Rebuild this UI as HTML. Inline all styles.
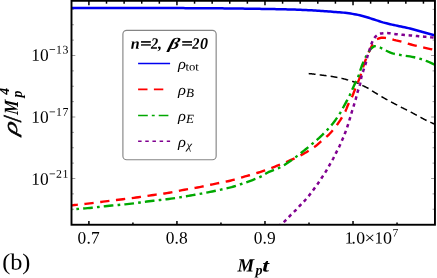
<!DOCTYPE html>
<html><head><meta charset="utf-8"><title>plot</title>
<style>
html,body{margin:0;padding:0;background:#fff;}
body{width:437px;height:278px;position:relative;overflow:hidden;font-family:"Liberation Serif",serif;color:#000;}
</style></head><body><div id="w" style="position:absolute;left:0;top:0;width:437px;height:278px;will-change:transform;background:#fff">
<svg width="437" height="278" viewBox="0 0 437 278" style="position:absolute;left:0;top:0"><defs><clipPath id="c"><rect x="71.5" y="0.8" width="363.45" height="223.95"/></clipPath></defs><g clip-path="url(#c)" fill="none" stroke-linejoin="round"><path d="M308.70,73.60 L309.40,73.66 L310.10,73.72 L310.80,73.78 L311.50,73.85 L312.20,73.92 L312.90,74.00 L313.60,74.07 L314.30,74.15 L315.00,74.23 L315.69,74.31 L316.39,74.40 L317.09,74.49 L317.79,74.59 L318.48,74.69 L319.18,74.79 L319.87,74.88 L320.57,74.98 L321.27,75.07 L321.97,75.16 L322.66,75.25 L323.36,75.34 L324.06,75.43 L324.75,75.52 L325.45,75.61 L326.15,75.70 L326.85,75.79 L327.54,75.88 L328.24,75.97 L328.94,76.06 L329.64,76.15 L330.33,76.25 L331.03,76.35 L331.72,76.46 L332.42,76.57 L333.11,76.68 L333.80,76.80 L334.50,76.92 L335.19,77.05 L335.88,77.17 L336.57,77.30 L337.26,77.44 L337.95,77.57 L338.64,77.71 L339.33,77.85 L340.02,77.99 L340.71,78.14 L341.39,78.30 L342.08,78.46 L342.76,78.62 L343.44,78.79 L344.12,78.96 L344.81,79.14 L345.49,79.32 L346.17,79.50 L346.84,79.69 L347.52,79.88 L348.20,80.07 L348.87,80.27 L349.54,80.47 L350.21,80.69 L350.88,80.90 L351.55,81.12 L352.22,81.34 L352.89,81.55 L353.56,81.77 L354.23,81.98 L354.90,82.20 L355.57,82.42 L356.24,82.64 L356.90,82.88 L357.56,83.12 L358.21,83.38 L358.85,83.67 L359.48,83.96 L360.11,84.28 L360.74,84.60 L361.37,84.92 L361.99,85.24 L362.62,85.56 L363.25,85.87 L363.89,86.17 L364.53,86.48 L365.16,86.78 L365.80,87.09 L366.43,87.39 L367.06,87.71 L367.68,88.03 L368.30,88.37 L368.91,88.71 L369.50,89.08 L370.09,89.47 L370.67,89.86 L371.26,90.26 L371.84,90.65 L372.43,91.03 L373.03,91.40 L373.62,91.78 L374.22,92.15 L374.82,92.52 L375.42,92.89 L376.02,93.25 L376.62,93.62 L377.22,93.99 L377.82,94.35 L378.42,94.72 L379.02,95.09 L379.62,95.46 L380.22,95.82 L380.82,96.19 L381.42,96.55 L382.03,96.91 L382.63,97.26 L383.24,97.61 L383.86,97.95 L384.47,98.29 L385.09,98.63 L385.70,98.97 L386.32,99.31 L386.94,99.65 L387.55,99.98 L388.17,100.32 L388.79,100.66 L389.40,101.00 L390.02,101.34 L390.63,101.68 L391.25,102.02 L391.87,102.35 L392.49,102.68 L393.11,103.01 L393.74,103.33 L394.36,103.66 L394.99,103.98 L395.61,104.30 L396.23,104.62 L396.86,104.95 L397.48,105.27 L398.11,105.60 L398.73,105.92 L399.35,106.25 L399.97,106.58 L400.59,106.91 L401.21,107.24 L401.84,107.56 L402.46,107.88 L403.09,108.20 L403.72,108.51 L404.35,108.82 L404.99,109.13 L405.62,109.43 L406.25,109.74 L406.89,110.05 L407.52,110.36 L408.15,110.67 L408.78,110.98 L409.40,111.31 L410.02,111.63 L410.65,111.96 L411.27,112.29 L411.89,112.62 L412.50,112.96 L413.12,113.29 L413.74,113.63 L414.36,113.97 L414.97,114.30 L415.59,114.64 L416.21,114.97 L416.83,115.31 L417.45,115.64 L418.07,115.97 L418.69,116.30 L419.31,116.64 L419.92,116.98 L420.54,117.31 L421.16,117.65 L421.78,117.99 L422.40,118.32 L423.02,118.65 L423.64,118.98 L424.26,119.31 L424.88,119.64 L425.51,119.96 L426.13,120.27 L426.76,120.59 L427.39,120.90 L428.03,121.20 L428.67,121.49 L429.30,121.79 L429.95,122.07 L430.59,122.36 L431.23,122.64 L431.88,122.93 L432.52,123.21 L433.16,123.49 L433.81,123.78 L434.45,124.07 L435.09,124.36 L435.72,124.66 L436.36,124.95 L437.00,125.25" stroke="#000" stroke-width="1.5" stroke-dasharray="6.9 4.15"/><path d="M70.00,7.90 L71.86,7.90 L73.72,7.91 L75.58,7.91 L77.44,7.92 L79.30,7.92 L81.16,7.93 L83.02,7.93 L84.88,7.93 L86.74,7.94 L88.60,7.94 L90.46,7.95 L92.32,7.95 L94.18,7.95 L96.04,7.96 L97.90,7.96 L99.76,7.96 L101.62,7.97 L103.48,7.97 L105.34,7.97 L107.20,7.98 L109.06,7.98 L110.92,7.98 L112.78,7.99 L114.64,7.99 L116.50,7.99 L118.35,8.00 L120.21,8.00 L122.07,8.00 L123.93,8.00 L125.79,8.01 L127.65,8.01 L129.51,8.01 L131.37,8.01 L133.23,8.02 L135.09,8.02 L136.95,8.02 L138.81,8.02 L140.67,8.02 L142.53,8.03 L144.39,8.03 L146.25,8.03 L148.11,8.03 L149.97,8.03 L151.83,8.04 L153.69,8.04 L155.55,8.04 L157.41,8.05 L159.27,8.05 L161.13,8.05 L162.99,8.06 L164.85,8.06 L166.71,8.07 L168.57,8.07 L170.43,8.08 L172.29,8.08 L174.15,8.09 L176.01,8.09 L177.87,8.10 L179.73,8.11 L181.59,8.11 L183.45,8.12 L185.31,8.13 L187.17,8.14 L189.03,8.15 L190.89,8.15 L192.75,8.16 L194.61,8.17 L196.47,8.18 L198.33,8.19 L200.19,8.20 L202.05,8.21 L203.91,8.22 L205.77,8.23 L207.62,8.25 L209.48,8.26 L211.34,8.28 L213.20,8.29 L215.06,8.31 L216.92,8.32 L218.78,8.34 L220.64,8.36 L222.50,8.37 L224.36,8.39 L226.22,8.41 L228.08,8.43 L229.94,8.45 L231.80,8.47 L233.66,8.49 L235.52,8.52 L237.38,8.54 L239.24,8.57 L241.10,8.59 L242.96,8.62 L244.82,8.65 L246.68,8.68 L248.54,8.70 L250.40,8.73 L252.26,8.76 L254.12,8.79 L255.98,8.81 L257.84,8.84 L259.70,8.87 L261.56,8.89 L263.42,8.92 L265.27,8.94 L267.13,8.97 L268.99,9.00 L270.85,9.03 L272.71,9.06 L274.57,9.09 L276.43,9.13 L278.29,9.17 L280.15,9.21 L282.01,9.25 L283.87,9.30 L285.73,9.34 L287.59,9.39 L289.45,9.45 L291.31,9.50 L293.17,9.56 L295.02,9.62 L296.88,9.68 L298.74,9.75 L300.60,9.82 L302.46,9.89 L304.32,9.97 L306.17,10.06 L308.03,10.16 L309.89,10.26 L311.75,10.36 L313.60,10.47 L315.46,10.58 L317.31,10.70 L319.17,10.81 L321.03,10.93 L322.88,11.06 L324.74,11.20 L326.59,11.34 L328.45,11.48 L330.30,11.62 L332.16,11.75 L334.01,11.88 L335.87,12.01 L337.73,12.14 L339.58,12.28 L341.43,12.44 L343.28,12.62 L345.13,12.83 L346.97,13.06 L348.82,13.31 L350.66,13.59 L352.50,13.88 L354.33,14.20 L356.16,14.53 L357.98,14.90 L359.79,15.31 L361.60,15.75 L363.41,16.22 L365.20,16.70 L366.99,17.21 L368.76,17.77 L370.53,18.36 L372.29,18.94 L374.06,19.52 L375.83,20.09 L377.60,20.68 L379.37,21.26 L381.14,21.83 L382.92,22.37 L384.71,22.86 L386.51,23.33 L388.31,23.76 L390.12,24.19 L391.94,24.60 L393.76,25.00 L395.57,25.40 L397.39,25.81 L399.21,26.19 L401.03,26.56 L402.86,26.93 L404.68,27.31 L406.50,27.70 L408.31,28.11 L410.11,28.55 L411.91,29.02 L413.71,29.52 L415.50,30.02 L417.28,30.53 L419.07,31.04 L420.87,31.54 L422.66,32.03 L424.45,32.53 L426.25,33.02 L428.04,33.52 L429.83,34.01 L431.62,34.51 L433.42,35.00 L435.21,35.50 L437.00,36.00" stroke="#0000f0" stroke-width="2.5"/><path d="M70.00,205.60 L72.20,205.32 L74.41,205.06 L76.61,204.82 L78.82,204.57 L81.03,204.33 L83.24,204.09 L85.44,203.85 L87.65,203.60 L89.86,203.35 L92.06,203.08 L94.26,202.80 L96.47,202.52 L98.67,202.24 L100.87,201.96 L103.07,201.68 L105.28,201.40 L107.48,201.13 L109.68,200.85 L111.89,200.58 L114.09,200.30 L116.29,200.03 L118.50,199.75 L120.70,199.48 L122.90,199.20 L125.11,198.93 L127.31,198.65 L129.51,198.38 L131.72,198.10 L133.92,197.82 L136.12,197.52 L138.32,197.22 L140.52,196.90 L142.71,196.58 L144.91,196.25 L147.11,195.92 L149.30,195.59 L151.50,195.27 L153.70,194.96 L155.90,194.66 L158.10,194.37 L160.30,194.07 L162.50,193.77 L164.70,193.46 L166.89,193.12 L169.08,192.77 L171.27,192.38 L173.45,191.96 L175.62,191.52 L177.80,191.07 L179.98,190.63 L182.16,190.19 L184.34,189.78 L186.52,189.39 L188.71,189.01 L190.90,188.63 L193.09,188.26 L195.28,187.88 L197.46,187.48 L199.64,187.07 L201.82,186.64 L203.99,186.19 L206.16,185.72 L208.33,185.25 L210.50,184.78 L212.67,184.31 L214.85,183.85 L217.02,183.41 L219.20,182.97 L221.39,182.55 L223.56,182.12 L225.74,181.67 L227.91,181.21 L230.07,180.71 L232.22,180.17 L234.36,179.59 L236.50,178.98 L238.63,178.35 L240.76,177.72 L242.89,177.08 L245.02,176.45 L247.15,175.84 L249.29,175.24 L251.43,174.63 L253.57,174.03 L255.70,173.41 L257.83,172.77 L259.94,172.11 L262.05,171.42 L264.15,170.70 L266.24,169.95 L268.33,169.18 L270.41,168.40 L272.48,167.60 L274.55,166.79 L276.61,165.98 L278.68,165.16 L280.74,164.32 L282.79,163.48 L284.84,162.62 L286.89,161.75 L288.92,160.87 L290.95,159.96 L292.97,159.05 L294.98,158.11 L296.99,157.15 L298.99,156.18 L300.97,155.17 L302.93,154.13 L304.87,153.06 L306.79,151.95 L308.70,150.80 L310.58,149.62 L312.44,148.39 L314.26,147.12 L316.03,145.79 L317.72,144.35 L319.39,142.89 L321.09,141.45 L322.80,140.01 L324.50,138.56 L326.18,137.10 L327.81,135.60 L329.38,134.05 L330.89,132.45 L332.35,130.79 L333.78,129.08 L335.16,127.33 L336.51,125.55 L337.82,123.74 L339.08,121.92 L340.31,120.08 L341.50,118.20 L342.66,116.30 L343.76,114.36 L344.81,112.40 L345.77,110.41 L346.63,108.36 L347.44,106.29 L348.32,104.25 L349.31,102.26 L350.35,100.30 L351.37,98.33 L352.30,96.31 L353.13,94.26 L353.92,92.18 L354.74,90.11 L355.58,88.06 L356.43,86.01 L357.28,83.95 L358.10,81.89 L358.92,79.83 L359.71,77.75 L360.45,75.66 L361.12,73.55 L361.76,71.42 L362.39,69.29 L363.05,67.17 L363.75,65.06 L364.49,62.97 L365.25,60.88 L366.03,58.80 L366.85,56.74 L367.70,54.68 L368.59,52.65 L369.52,50.63 L370.47,48.61 L371.48,46.62 L372.59,44.72 L373.80,42.76 L375.16,40.83 L376.69,39.38 L378.58,38.48 L380.81,37.82 L383.03,37.72 L385.26,37.88 L387.45,38.12 L389.62,38.57 L391.76,39.16 L393.90,39.80 L396.06,40.39 L398.23,40.87 L400.38,41.40 L402.51,42.01 L404.64,42.65 L406.76,43.31 L408.89,43.94 L411.03,44.53 L413.18,45.08 L415.34,45.61 L417.50,46.12 L419.67,46.62 L421.83,47.12 L423.99,47.61 L426.16,48.09 L428.33,48.57 L430.50,49.05 L432.66,49.54 L434.83,50.02 L437.00,50.50" stroke="#ff0000" stroke-width="2.4" stroke-dasharray="9.3 6.6" stroke-dashoffset="1.4"/><path d="M70.00,209.60 L72.20,209.42 L74.40,209.24 L76.60,209.06 L78.80,208.89 L81.00,208.71 L83.20,208.53 L85.40,208.34 L87.60,208.15 L89.80,207.94 L91.99,207.71 L94.19,207.47 L96.38,207.23 L98.57,206.98 L100.77,206.72 L102.96,206.47 L105.16,206.23 L107.35,206.00 L109.55,205.78 L111.74,205.56 L113.94,205.35 L116.14,205.15 L118.34,204.94 L120.54,204.73 L122.73,204.53 L124.93,204.33 L127.13,204.12 L129.33,203.90 L131.52,203.65 L133.71,203.37 L135.90,203.08 L138.08,202.78 L140.27,202.47 L142.45,202.16 L144.64,201.85 L146.83,201.55 L149.02,201.26 L151.21,200.99 L153.40,200.73 L155.59,200.48 L157.79,200.23 L159.98,199.99 L162.18,199.74 L164.37,199.49 L166.56,199.23 L168.75,198.96 L170.94,198.67 L173.12,198.36 L175.31,198.03 L177.49,197.69 L179.67,197.35 L181.85,197.00 L184.03,196.64 L186.21,196.28 L188.38,195.91 L190.56,195.53 L192.73,195.15 L194.91,194.77 L197.08,194.39 L199.25,194.00 L201.43,193.60 L203.60,193.20 L205.77,192.79 L207.93,192.37 L210.10,191.94 L212.26,191.50 L214.42,191.03 L216.57,190.55 L218.72,190.06 L220.88,189.57 L223.03,189.09 L225.19,188.63 L227.35,188.17 L229.51,187.68 L231.64,187.14 L233.76,186.52 L235.86,185.86 L237.96,185.16 L240.05,184.45 L242.15,183.74 L244.23,183.02 L246.32,182.29 L248.39,181.55 L250.47,180.79 L252.54,180.01 L254.61,179.24 L256.68,178.45 L258.72,177.61 L260.71,176.70 L262.63,175.62 L264.51,174.44 L266.39,173.26 L268.32,172.19 L270.32,171.29 L272.39,170.51 L274.48,169.76 L276.55,168.99 L278.57,168.12 L280.54,167.14 L282.48,166.07 L284.39,164.95 L286.27,163.79 L288.12,162.60 L289.95,161.36 L291.74,160.07 L293.52,158.76 L295.29,157.43 L297.05,156.11 L298.80,154.76 L300.54,153.40 L302.27,152.03 L304.00,150.65 L305.71,149.26 L307.42,147.86 L309.12,146.46 L310.82,145.04 L312.50,143.61 L314.19,142.19 L315.87,140.76 L317.54,139.31 L319.19,137.85 L320.81,136.35 L322.40,134.82 L323.98,133.27 L325.53,131.70 L327.05,130.10 L328.54,128.47 L330.00,126.82 L331.44,125.14 L332.84,123.43 L334.20,121.69 L335.52,119.93 L336.80,118.12 L338.04,116.29 L339.24,114.44 L340.40,112.56 L341.50,110.65 L342.56,108.71 L343.60,106.76 L344.66,104.83 L345.72,102.89 L346.78,100.95 L347.82,99.00 L348.83,97.04 L349.81,95.06 L350.74,93.07 L351.64,91.05 L352.53,89.03 L353.41,87.00 L354.30,84.98 L355.21,82.97 L356.17,80.98 L357.15,78.99 L358.06,76.99 L358.85,74.94 L359.56,72.85 L360.22,70.73 L360.88,68.62 L361.57,66.52 L362.35,64.47 L363.20,62.43 L364.11,60.41 L365.06,58.42 L366.03,56.44 L367.02,54.45 L368.08,52.51 L369.32,50.69 L370.75,48.96 L372.37,47.50 L374.28,46.18 L376.32,46.15 L378.46,46.88 L380.55,47.74 L382.53,48.69 L384.47,49.76 L386.44,50.77 L388.44,51.73 L390.46,52.66 L392.52,53.42 L394.63,53.95 L396.80,54.39 L398.99,54.77 L401.17,55.13 L403.35,55.48 L405.54,55.79 L407.73,56.09 L409.91,56.43 L412.08,56.82 L414.24,57.28 L416.40,57.78 L418.53,58.33 L420.65,58.94 L422.74,59.63 L424.82,60.38 L426.89,61.18 L428.93,62.00 L430.95,62.89 L432.97,63.81 L434.98,64.70 L437.00,65.60" stroke="#00a800" stroke-width="2.4" stroke-dasharray="9.7 4.2 2.7 4.1" stroke-dashoffset="7.5"/><path d="M276.00,228.50 L277.08,227.57 L278.16,226.65 L279.24,225.73 L280.33,224.81 L281.43,223.90 L282.54,223.00 L283.64,222.10 L284.72,221.18 L285.77,220.23 L286.78,219.23 L287.75,218.19 L288.71,217.14 L289.67,216.08 L290.65,215.05 L291.66,214.05 L292.70,213.07 L293.74,212.10 L294.77,211.12 L295.78,210.12 L296.77,209.10 L297.74,208.06 L298.70,207.01 L299.65,205.95 L300.62,204.90 L301.59,203.87 L302.58,202.84 L303.56,201.81 L304.54,200.78 L305.50,199.73 L306.43,198.66 L307.36,197.58 L308.27,196.48 L309.16,195.38 L310.05,194.26 L310.92,193.14 L311.78,192.01 L312.63,190.87 L313.48,189.72 L314.32,188.57 L315.16,187.42 L316.00,186.27 L316.83,185.12 L317.66,183.96 L318.47,182.79 L319.26,181.62 L320.05,180.43 L320.82,179.23 L321.59,178.04 L322.36,176.84 L323.13,175.64 L323.91,174.45 L324.69,173.26 L325.46,172.07 L326.22,170.86 L326.95,169.64 L327.67,168.41 L328.37,167.18 L329.06,165.93 L329.76,164.69 L330.45,163.45 L331.16,162.22 L331.87,160.98 L332.56,159.74 L333.25,158.49 L333.90,157.23 L334.54,155.96 L335.17,154.68 L335.80,153.41 L336.43,152.13 L337.08,150.86 L337.74,149.60 L338.39,148.34 L339.04,147.07 L339.66,145.79 L340.25,144.50 L340.83,143.20 L341.39,141.89 L341.95,140.58 L342.51,139.27 L343.07,137.96 L343.62,136.65 L344.16,135.34 L344.69,134.02 L345.20,132.69 L345.70,131.36 L346.19,130.02 L346.66,128.68 L347.13,127.33 L347.58,125.99 L348.03,124.63 L348.47,123.28 L348.89,121.92 L349.30,120.56 L349.69,119.19 L350.09,117.83 L350.48,116.46 L350.88,115.09 L351.27,113.73 L351.68,112.36 L352.10,111.00 L352.52,109.64 L352.94,108.28 L353.37,106.93 L353.79,105.57 L354.21,104.21 L354.63,102.85 L355.04,101.49 L355.45,100.12 L355.84,98.76 L356.21,97.38 L356.56,96.00 L356.91,94.62 L357.26,93.24 L357.64,91.87 L358.05,90.51 L358.50,89.16 L358.96,87.81 L359.40,86.45 L359.82,85.09 L360.17,83.72 L360.46,82.33 L360.70,80.93 L360.92,79.52 L361.17,78.11 L361.46,76.73 L361.83,75.36 L362.25,74.00 L362.70,72.64 L363.14,71.29 L363.58,69.93 L364.04,68.59 L364.51,67.24 L364.97,65.89 L365.41,64.54 L365.81,63.18 L366.16,61.80 L366.47,60.41 L366.77,59.02 L367.10,57.63 L367.47,56.26 L367.92,54.92 L368.42,53.58 L368.89,52.24 L369.30,50.87 L369.67,49.49 L370.03,48.11 L370.42,46.74 L370.88,45.41 L371.38,44.05 L371.93,42.67 L372.52,41.32 L373.17,40.00 L373.88,38.77 L374.65,37.65 L375.51,36.65 L376.56,35.63 L377.76,34.68 L379.04,33.95 L380.34,33.58 L381.68,33.40 L383.11,33.25 L384.57,33.15 L386.02,33.10 L387.44,33.12 L388.85,33.21 L390.27,33.36 L391.68,33.55 L393.09,33.76 L394.51,33.96 L395.92,34.14 L397.34,34.28 L398.75,34.42 L400.17,34.55 L401.59,34.68 L403.00,34.80 L404.42,34.93 L405.84,35.05 L407.26,35.18 L408.67,35.30 L410.09,35.43 L411.51,35.56 L412.93,35.68 L414.34,35.81 L415.76,35.94 L417.18,36.06 L418.59,36.19 L420.01,36.32 L421.43,36.44 L422.85,36.57 L424.26,36.70 L425.68,36.83 L427.10,36.97 L428.51,37.10 L429.93,37.24 L431.34,37.38 L432.76,37.53 L434.17,37.68 L435.59,37.84 L437.00,38.00" stroke="#800090" stroke-width="2.5" stroke-dasharray="3.5 3.7" stroke-dashoffset="4.4"/></g><g stroke="#000" stroke-width="1.5"><line x1="88.90" y1="0.8" x2="88.90" y2="5.3"/><line x1="106.51" y1="0.8" x2="106.51" y2="3.7"/><line x1="124.12" y1="0.8" x2="124.12" y2="3.7"/><line x1="141.72" y1="0.8" x2="141.72" y2="3.7"/><line x1="159.33" y1="0.8" x2="159.33" y2="3.7"/><line x1="176.94" y1="0.8" x2="176.94" y2="5.3"/><line x1="194.55" y1="0.8" x2="194.55" y2="3.7"/><line x1="212.16" y1="0.8" x2="212.16" y2="3.7"/><line x1="229.76" y1="0.8" x2="229.76" y2="3.7"/><line x1="247.37" y1="0.8" x2="247.37" y2="3.7"/><line x1="264.98" y1="0.8" x2="264.98" y2="5.3"/><line x1="282.59" y1="0.8" x2="282.59" y2="3.7"/><line x1="300.20" y1="0.8" x2="300.20" y2="3.7"/><line x1="317.80" y1="0.8" x2="317.80" y2="3.7"/><line x1="335.41" y1="0.8" x2="335.41" y2="3.7"/><line x1="353.02" y1="0.8" x2="353.02" y2="5.3"/><line x1="370.63" y1="0.8" x2="370.63" y2="3.7"/><line x1="388.24" y1="0.8" x2="388.24" y2="3.7"/><line x1="405.84" y1="0.8" x2="405.84" y2="3.7"/><line x1="423.45" y1="0.8" x2="423.45" y2="3.7"/><line x1="88.90" y1="224.75" x2="88.90" y2="221.05"/><line x1="132.92" y1="224.75" x2="132.92" y2="222.45"/><line x1="176.94" y1="224.75" x2="176.94" y2="221.05"/><line x1="220.96" y1="224.75" x2="220.96" y2="222.45"/><line x1="264.98" y1="224.75" x2="264.98" y2="221.05"/><line x1="309.00" y1="224.75" x2="309.00" y2="222.45"/><line x1="353.02" y1="224.75" x2="353.02" y2="221.05"/><line x1="397.04" y1="224.75" x2="397.04" y2="222.45"/></g><g stroke="#555" stroke-width="0.6"><line x1="71.5" y1="209.25" x2="73.9" y2="209.25"/><line x1="434.95" y1="209.25" x2="432.55" y2="209.25"/><line x1="71.5" y1="193.88" x2="73.9" y2="193.88"/><line x1="434.95" y1="193.88" x2="432.55" y2="193.88"/><line x1="71.5" y1="178.50" x2="75.3" y2="178.50"/><line x1="434.95" y1="178.50" x2="431.15" y2="178.50"/><line x1="71.5" y1="163.12" x2="73.9" y2="163.12"/><line x1="434.95" y1="163.12" x2="432.55" y2="163.12"/><line x1="71.5" y1="147.75" x2="73.9" y2="147.75"/><line x1="434.95" y1="147.75" x2="432.55" y2="147.75"/><line x1="71.5" y1="132.38" x2="73.9" y2="132.38"/><line x1="434.95" y1="132.38" x2="432.55" y2="132.38"/><line x1="71.5" y1="117.00" x2="75.3" y2="117.00"/><line x1="434.95" y1="117.00" x2="431.15" y2="117.00"/><line x1="71.5" y1="101.62" x2="73.9" y2="101.62"/><line x1="434.95" y1="101.62" x2="432.55" y2="101.62"/><line x1="71.5" y1="86.25" x2="73.9" y2="86.25"/><line x1="434.95" y1="86.25" x2="432.55" y2="86.25"/><line x1="71.5" y1="70.88" x2="73.9" y2="70.88"/><line x1="434.95" y1="70.88" x2="432.55" y2="70.88"/><line x1="71.5" y1="55.50" x2="75.3" y2="55.50"/><line x1="434.95" y1="55.50" x2="431.15" y2="55.50"/><line x1="71.5" y1="40.12" x2="73.9" y2="40.12"/><line x1="434.95" y1="40.12" x2="432.55" y2="40.12"/><line x1="71.5" y1="24.75" x2="73.9" y2="24.75"/><line x1="434.95" y1="24.75" x2="432.55" y2="24.75"/><line x1="71.5" y1="9.38" x2="73.9" y2="9.38"/><line x1="434.95" y1="9.38" x2="432.55" y2="9.38"/></g><rect x="71.5" y="0.8" width="363.45" height="223.95" fill="none" stroke="#000" stroke-width="1.9"/><rect x="122.9" y="30.3" width="93.25" height="129.45" rx="3.8" fill="#fff" stroke="#858585" stroke-width="1.15"/><g fill="none" stroke-width="1.55"><path d="M138.1,63.4H170.1" stroke="#0000f0"/><path d="M138.1,89.35H169.5" stroke="#ff0000" stroke-dasharray="9.4 6.4"/><path d="M138.1,115.4H170.1" stroke="#00a800" stroke-dasharray="9.7 4.0 2.9 4.0"/><path d="M138.1,141.15H170.1" stroke="#800090" stroke-dasharray="3.5 3.67"/></g><text transform="translate(17.15,135.40) rotate(-90) scale(1.36,1) skewX(-12)" font-family="Liberation Serif" font-weight="normal" stroke="#000" stroke-width="0.45" font-style="italic" font-size="19.5">&#961;</text><text stroke="#000" stroke-width="0.6" transform="translate(20.50,121.25) rotate(-90) scale(0.85,1.2) " font-family="Liberation Serif" font-weight="bold" font-style="italic" font-size="20.2">/</text><text transform="translate(17.70,115.00) rotate(-90) scale(0.8,1) skewX(-6)" font-family="Liberation Serif" font-weight="bold" font-style="italic" font-size="20.2">M</text><text transform="translate(22.30,97.50) rotate(-90) scale(1,1) " font-family="Liberation Serif" font-weight="bold" font-style="italic" font-size="13.6">p</text><text transform="translate(9.40,94.80) rotate(-90) scale(1,1) " font-family="Liberation Serif" font-weight="bold" font-style="italic" font-size="14">4</text><text transform="translate(130.80,48.70) rotate(0.03) scale(1,1) " font-family="Liberation Serif" font-weight="bold" font-style="italic" font-size="16">n</text><text stroke="#000" stroke-width="0.45" transform="translate(140.20,48.70) rotate(0.03) scale(1.22,1) " font-family="Liberation Serif" font-weight="bold" font-style="italic" font-size="16">=</text><text transform="translate(151.10,48.70) rotate(0.03) scale(0.9,1) " font-family="Liberation Serif" font-weight="bold" font-style="italic" font-size="16">2</text><text transform="translate(158.10,48.70) rotate(0.03) scale(1,1) " font-family="Liberation Serif" font-weight="bold" font-style="italic" font-size="16">,</text><text transform="translate(167.80,48.70) rotate(0.03) scale(1.33,1) skewX(-10)" font-family="Liberation Serif" font-weight="bold" font-style="italic" font-size="15.8">&#946;</text><text stroke="#000" stroke-width="0.45" transform="translate(181.50,48.70) rotate(0.03) scale(1.22,1) " font-family="Liberation Serif" font-weight="bold" font-style="italic" font-size="16">=</text><text transform="translate(192.30,48.70) rotate(0.03) scale(0.9,1) " font-family="Liberation Serif" font-weight="bold" font-style="italic" font-size="16">2</text><text transform="translate(200.10,48.70) rotate(0.03) scale(1,1) " font-family="Liberation Serif" font-weight="bold" font-style="italic" font-size="16">0</text><text transform="translate(177.90,68.65) rotate(0.03) scale(1.1,1) " font-family="Liberation Serif" font-weight="normal" font-style="italic" font-size="15">&#961;</text><text transform="translate(185.50,70.40) rotate(0.03) scale(1.1,1) " font-family="Liberation Serif" font-weight="normal" font-style="normal" font-size="11.5">tot</text><text transform="translate(177.90,94.65) rotate(0.03) scale(1.1,1) " font-family="Liberation Serif" font-weight="normal" font-style="italic" font-size="15">&#961;</text><text transform="translate(185.90,96.95) rotate(0.03) scale(1.05,1) " font-family="Liberation Serif" font-weight="normal" font-style="italic" font-size="12.5">B</text><text transform="translate(177.90,120.65) rotate(0.03) scale(1.1,1) " font-family="Liberation Serif" font-weight="normal" font-style="italic" font-size="15">&#961;</text><text transform="translate(185.90,122.95) rotate(0.03) scale(1.05,1) " font-family="Liberation Serif" font-weight="normal" font-style="italic" font-size="12.5">E</text><text transform="translate(177.90,146.65) rotate(0.03) scale(1.1,1) " font-family="Liberation Serif" font-weight="normal" font-style="italic" font-size="15">&#961;</text><text transform="translate(186.40,149.10) rotate(0.03) scale(1.1,1) " font-family="Liberation Serif" font-weight="normal" font-style="italic" font-size="11.4">&#967;</text><text transform="translate(31.20,60.70) rotate(0.03) scale(1,1)" font-family="Liberation Serif" font-size="17.4" text-anchor="start">10</text><text transform="translate(49.00,53.60) rotate(0.03) scale(1,1)" font-family="Liberation Serif" font-size="11.8" text-anchor="start" letter-spacing="0.45">&#8722;13</text><text transform="translate(31.20,122.80) rotate(0.03) scale(1,1)" font-family="Liberation Serif" font-size="17.4" text-anchor="start">10</text><text transform="translate(49.00,115.70) rotate(0.03) scale(1,1)" font-family="Liberation Serif" font-size="11.8" text-anchor="start" letter-spacing="0.45">&#8722;17</text><text transform="translate(31.20,184.80) rotate(0.03) scale(1,1)" font-family="Liberation Serif" font-size="17.4" text-anchor="start">10</text><text transform="translate(49.00,177.70) rotate(0.03) scale(1,1)" font-family="Liberation Serif" font-size="11.8" text-anchor="start" letter-spacing="0.45">&#8722;21</text><text transform="translate(77.60,243.55) rotate(0.03) scale(1,1)" font-family="Liberation Serif" font-size="17.4" text-anchor="start" letter-spacing="0.15">0.7</text><text transform="translate(165.64,243.55) rotate(0.03) scale(1,1)" font-family="Liberation Serif" font-size="17.4" text-anchor="start" letter-spacing="0.15">0.8</text><text transform="translate(253.68,243.55) rotate(0.03) scale(1,1)" font-family="Liberation Serif" font-size="17.4" text-anchor="start" letter-spacing="0.15">0.9</text><text transform="translate(344.75,243.55) rotate(0.03) scale(1,1)" font-family="Liberation Serif" font-size="17" text-anchor="start">1</text><text transform="translate(351.60,243.55) rotate(0.03) scale(1,1)" font-family="Liberation Serif" font-size="17" text-anchor="start">.</text><text transform="translate(356.20,243.55) rotate(0.03) scale(1.04,1)" font-family="Liberation Serif" font-size="17" text-anchor="start">0</text><text transform="translate(364.50,243.55) rotate(0.03) scale(1.1,1)" font-family="Liberation Serif" font-size="17" text-anchor="start">&#215;</text><text transform="translate(374.50,243.55) rotate(0.03) scale(1,1)" font-family="Liberation Serif" font-size="17" text-anchor="start">1</text><text transform="translate(383.10,243.55) rotate(0.03) scale(1.06,1)" font-family="Liberation Serif" font-size="17" text-anchor="start">0</text><text transform="translate(392.50,236.50) rotate(0.03) scale(1,1)" font-family="Liberation Serif" font-size="11.6" text-anchor="start">7</text><text transform="translate(2.13,269.40) rotate(0.03) scale(1.05,1)" font-family="Liberation Serif" font-size="23.1" text-anchor="start">(b)</text><text transform="translate(237.60,271.50) rotate(0.03) scale(1,1) " font-family="Liberation Serif" font-weight="bold" font-style="italic" font-size="18.7">M</text><text transform="translate(255.50,274.40) rotate(0.03) scale(1,1) " font-family="Liberation Serif" font-weight="bold" font-style="italic" font-size="14">p</text><text transform="translate(262.20,271.50) rotate(0.03) scale(1.3,1) " font-family="Liberation Serif" font-weight="bold" font-style="italic" font-size="18.7">t</text></svg>
</div></body></html>
